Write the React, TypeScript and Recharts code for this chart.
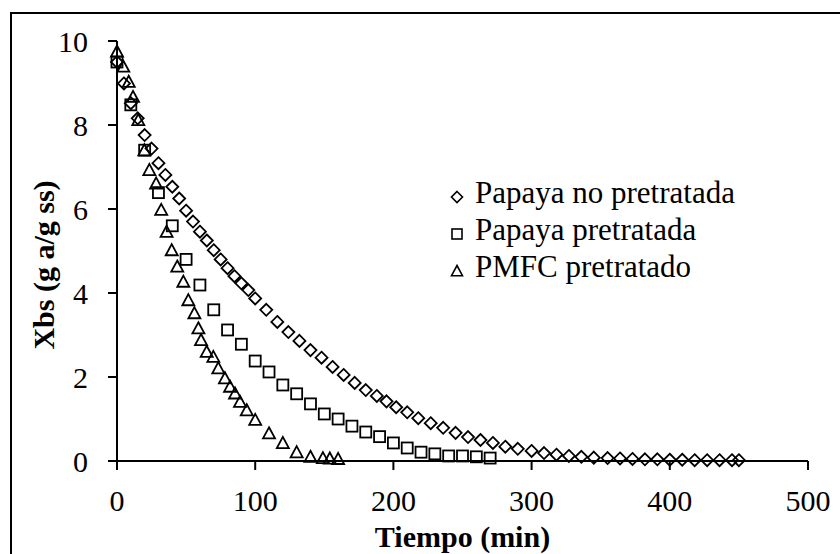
import React from "react";
import { ScatterChart, Scatter, XAxis, YAxis, Legend } from "recharts";

// Papaya no pretratada (diamantes)
const tiempoNoPre = [
  0, 5, 10, 15, 20, 25, 30, 35, 40, 45, 50, 55, 60, 65, 70, 75, 80, 85, 90, 95, 100,
  108, 116, 124, 132, 140, 148, 156, 164, 172, 180, 188, 195, 202, 210, 218, 227, 236,
  245, 254, 263, 272, 281, 290, 300, 309, 318, 327, 336, 345, 355, 364, 373, 382, 391,
  400, 409, 418, 427, 436, 445, 450,
];
const xbsNoPre = [
  9.5, 8.99, 8.52, 8.16, 7.76, 7.44, 7.09, 6.81, 6.53, 6.25, 5.96, 5.7, 5.46, 5.25,
  5.02, 4.8, 4.59, 4.4, 4.23, 4.07, 3.87, 3.6, 3.31, 3.07, 2.86, 2.64, 2.46, 2.24,
  2.05, 1.86, 1.69, 1.55, 1.42, 1.28, 1.16, 1.02, 0.9, 0.79, 0.67, 0.57, 0.5, 0.43,
  0.34, 0.29, 0.24, 0.19, 0.15, 0.12, 0.1, 0.08, 0.07, 0.06, 0.05, 0.04, 0.04, 0.03,
  0.03, 0.02, 0.02, 0.02, 0.02, 0.02,
];

// Papaya pretratada (cuadrados)
const tiempoPre = [
  0, 10, 20, 30, 40, 50, 60, 70, 80, 90, 100, 110, 120, 130, 140, 150, 160, 170, 180,
  190, 200, 210, 220, 230, 240, 250, 260, 270,
];
const xbsPre = [
  9.5, 8.48, 7.4, 6.39, 5.6, 4.8, 4.19, 3.6, 3.12, 2.78, 2.38, 2.12, 1.81, 1.6, 1.36,
  1.12, 1.0, 0.83, 0.69, 0.58, 0.43, 0.31, 0.21, 0.17, 0.12, 0.12, 0.1, 0.07,
];

// PMFC pretratado (triangulos)
const tiempoPmfc = [
  0, 4.6, 8.5, 11.6, 15.4, 19.8, 23.4, 28.3, 32, 35.9, 39.6, 43.6, 48, 51.6, 56, 58.9,
  60.8, 64.9, 69.7, 73.3, 78.1, 81.8, 85.4, 89, 93.9, 100, 110, 120, 130, 140, 149,
  154, 160,
];
const xbsPmfc = [
  9.75, 9.39, 9.03, 8.67, 8.12, 7.4, 6.93, 6.61, 5.98, 5.46, 5.02, 4.63, 4.27, 3.83,
  3.52, 3.16, 2.88, 2.6, 2.48, 2.21, 1.97, 1.77, 1.61, 1.41, 1.21, 0.98, 0.66, 0.43,
  0.21, 0.1, 0.07, 0.06, 0.05,
];

const seriesNames = ["Papaya no pretratada", "Papaya pretratada", "PMFC pretratado"];
const xTicks = [0, 100, 200, 300, 400, 500];
const yTicks = [0, 2, 4, 6, 8, 10];

const toPoints = (ts: number[], ys: number[]) => ts.map((t, i) => ({ t, xbs: ys[i] }));

const dataNoPre = toPoints(tiempoNoPre, xbsNoPre);
const dataPre = toPoints(tiempoPre, xbsPre);
const dataPmfc = toPoints(tiempoPmfc, xbsPmfc);

const FONT = "'Liberation Serif', 'Times New Roman', serif";

const Diamond = ({ cx, cy, r = 6, sw = 1.8 }: any) => (
  <path
    d={`M${cx},${cy - r}L${cx + r},${cy}L${cx},${cy + r}L${cx - r},${cy}Z`}
    fill="none"
    stroke="#000"
    strokeWidth={sw}
  />
);

const Square = ({ cx, cy, r = 5.5, sw = 1.8 }: any) => (
  <rect x={cx - r} y={cy - r} width={r * 2} height={r * 2} fill="none" stroke="#000" strokeWidth={sw} />
);

const Triangle = ({ cx, cy, r = 6, sw = 1.8 }: any) => (
  <path
    d={`M${cx},${cy - r}L${cx + r},${cy + r * 0.85}L${cx - r},${cy + r * 0.85}Z`}
    fill="none"
    stroke="#000"
    strokeWidth={sw}
  />
);

const LegendBox = () => {
  const marks = [Diamond, Square, Triangle];
  return (
    <svg width={320} height={120} style={{ display: "block" }}>
      {seriesNames.map((name, i) => {
        const Mark = marks[i];
        return (
          <g key={name}>
            <Mark cx={17} cy={27 + i * 37} r={i === 1 ? 5 : 5.5} sw={1.6} />
            <text x={35} y={33 + i * 37} fontFamily={FONT} fontSize={31} fill="#000">
              {name}
            </text>
          </g>
        );
      })}
    </svg>
  );
};

const XTitle = () => (
  <text x={462.5} y={547} textAnchor="middle" fontFamily={FONT} fontSize={30} fontWeight="bold" fill="#000">
    Tiempo (min)
  </text>
);

const YTitle = () => (
  <text
    x={54}
    y={265}
    transform="rotate(-90 54 265)"
    textAnchor="middle"
    fontFamily={FONT}
    fontSize={30}
    fontWeight="bold"
    fill="#000"
  >
    Xbs (g a/g ss)
  </text>
);

const tickStyle = { fill: "#000", fontSize: 30, fontFamily: FONT };

export default function App() {
  return (
    <div style={{ position: "absolute", left: 0, top: 0, width: 840, height: 554, background: "#fff" }}>
      <div
        style={{
          position: "absolute",
          left: 10,
          top: 12,
          width: 830,
          height: 542,
          borderLeft: "2px solid #000",
          borderTop: "2px solid #000",
          boxSizing: "border-box",
        }}
      />
      <div style={{ position: "absolute", left: 0, top: 0 }}>
        <ScatterChart width={840} height={554} margin={{ top: 41, right: 32, left: 0, bottom: 0 }}>
          <XAxis
            type="number"
            dataKey="t"
            domain={[0, 500]}
            ticks={xTicks}
            height={93}
            tickSize={9}
            tickMargin={20}
            tick={tickStyle}
            axisLine={{ stroke: "#000", strokeWidth: 2 }}
            tickLine={{ stroke: "#000", strokeWidth: 2 }}
            label={<XTitle />}
          />
          <YAxis
            type="number"
            dataKey="xbs"
            domain={[0, 10]}
            ticks={yTicks}
            width={117}
            tickSize={9}
            tickMargin={20}
            tick={tickStyle}
            axisLine={{ stroke: "#000", strokeWidth: 2 }}
            tickLine={{ stroke: "#000", strokeWidth: 2 }}
            label={<YTitle />}
          />
          <Legend
            layout="vertical"
            align="center"
            verticalAlign="middle"
            content={<LegendBox />}
            wrapperStyle={{ left: 440, top: 170, width: 320, height: 120 }}
          />
          <Scatter name={seriesNames[0]} data={dataNoPre} shape={<Diamond />} isAnimationActive={false} />
          <Scatter name={seriesNames[1]} data={dataPre} shape={<Square />} isAnimationActive={false} />
          <Scatter name={seriesNames[2]} data={dataPmfc} shape={<Triangle />} isAnimationActive={false} />
        </ScatterChart>
      </div>
    </div>
  );
}
